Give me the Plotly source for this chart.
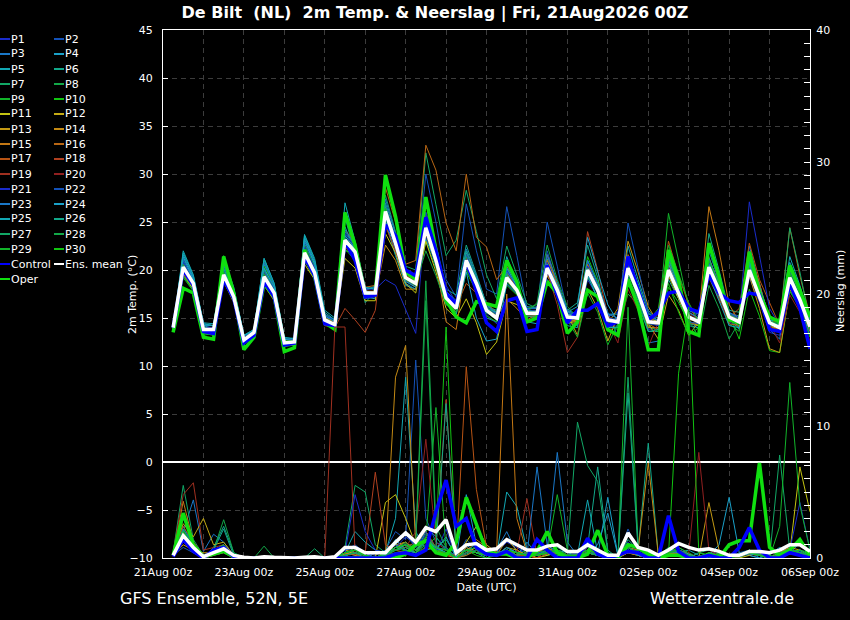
import pandas as pd
import plotly.graph_objects as go

# 6-hourly steps, 21Aug 06Z .. 06Sep 00Z
times = pd.date_range("2026-08-21 06:00", periods=64, freq="6h")

# ---- 2m temperature (°C), members P1..P30 ----
t_p01 = [14.2,19.8,18.2,13.6, 13.5,19.2,17.5,12.9, 13.2,19.6,17.9,12.8, 12.2,21.5,19.4,14.6, 14.0,22.5,21.4,17.0, 17.2,25.6,23.0,19.6, 18.9,23.5,20.4,16.8, 15.8,20.2,18.0,15.4, 14.4,18.5,17.5,15.9, 16.2,21.5,18.6,14.5, 14.2,19.0,17.2,15.2, 15.6,21.4,18.2,14.0, 13.8,19.5,17.9,15.8, 15.2,21.0,18.4,14.6, 14.0,19.2,16.6,13.5, 13.2,18.4,16.0,13.4]
t_p02 = [13.8,20.6,18.9,14.0, 14.0,19.8,17.0,12.5, 13.6,19.0,17.3,12.2, 12.6,22.3,20.1,15.2, 14.8,23.6,22.3,18.0, 18.2,26.8,23.4,19.9, 19.2,30.0,25.0,19.0, 17.2,26.9,22.0,18.0, 17.5,26.6,21.5,16.0, 15.2,22.0,18.5,15.5, 15.5,21.0,18.0,14.0, 14.2,20.5,17.0,13.8, 14.0,21.5,18.5,15.5, 15.0,20.0,17.5,14.2, 14.5,22.0,18.0,14.0, 13.5,19.5,17.0,14.5]
t_p03 = [14.1,21.0,19.0,14.2, 13.9,20.2,17.6,12.4, 13.0,20.1,18.0,12.0, 12.8,22.8,20.3,15.0, 14.6,24.0,22.5,17.4, 17.9,25.2,22.0,18.6, 18.0,24.6,21.5,17.6, 16.2,20.5,18.2,15.0, 14.6,19.8,18.4,16.2, 16.0,19.0,17.2,14.8, 14.5,21.0,18.6,15.6, 13.0,19.5,16.2,12.4, 12.6,21.5,18.2,14.8, 13.8,22.0,18.8,15.5, 15.2,22.5,18.5,13.8, 12.8,20.0,17.5,14.5]
t_p04 = [13.9,21.6,19.2,14.4, 14.2,20.5,17.8,13.0, 13.4,20.6,18.3,12.6, 12.4,23.4,20.8,15.4, 14.2,22.8,21.0,17.2, 17.0,26.5,23.2,19.4, 18.4,25.2,21.8,17.8, 16.8,21.8,19.2,16.4, 15.6,20.4,18.6,15.2, 15.0,20.8,17.6,15.6, 15.4,19.6,17.0,14.0, 14.0,21.0,17.8,15.0, 14.8,20.5,18.0,15.8, 15.4,19.5,17.2,15.0, 13.8,21.6,18.6,14.8, 14.6,19.0,16.4,13.0]
t_p05 = [14.0,22.0,19.5,14.5, 14.4,21.0,18.0,13.2, 13.8,21.2,18.6,12.9, 12.9,23.7,21.2,15.8, 15.0,24.5,22.0,17.8, 17.6,25.0,21.5,18.4, 18.0,23.2,20.8,17.2, 16.0,20.8,18.8,16.2, 15.8,21.4,18.6,14.6, 14.4,19.6,17.2,14.2, 14.0,20.5,18.4,15.4, 15.4,22.5,19.0,15.8, 14.6,19.8,17.0,14.2, 14.0,20.6,18.2,15.6, 14.8,19.6,17.0,14.0, 13.6,20.8,18.2,15.0]
t_p06 = [14.3,20.8,18.8,14.0, 13.6,19.4,17.0,12.2, 13.4,21.0,18.2,12.8, 12.0,22.0,19.8,14.4, 13.8,25.5,21.6,16.6, 17.8,27.0,23.8,20.0, 19.4,26.0,22.4,18.0, 17.4,22.6,19.6,16.4, 15.4,20.0,18.0,15.0, 15.8,21.2,18.4,15.8, 16.6,22.6,19.2,14.6, 14.6,19.0,16.8,13.6, 13.6,19.0,17.0,14.4, 14.2,23.8,20.0,15.8, 15.6,21.0,18.0,15.2, 14.6,18.5,16.5,13.8]
t_p07 = [13.6,19.6,18.0,13.4, 13.2,19.0,16.8,12.0, 12.8,18.8,17.0,12.0, 12.2,21.0,19.0,14.2, 14.4,23.0,22.2,17.8, 18.4,27.8,24.0,20.4, 20.0,32.2,26.8,21.5, 23.1,28.3,24.0,19.5, 17.0,22.5,19.5,16.5, 16.0,20.5,18.0,15.0, 14.6,19.2,17.6,14.6, 14.4,20.2,17.4,14.4, 14.8,21.0,18.6,15.4, 14.4,19.6,17.6,14.8, 14.2,20.6,17.8,15.0, 14.4,19.8,17.2,14.0]
t_p08 = [14.0,20.4,18.6,14.1, 13.8,21.4,17.8,12.6, 13.6,19.4,17.8,12.6, 12.6,21.4,19.2,14.8, 14.2,22.2,21.0,17.2, 17.4,25.4,22.6,19.0, 18.2,23.0,20.2,16.4, 15.6,20.0,18.2,15.6, 14.8,19.0,18.0,15.8, 15.4,20.4,18.2,15.4, 15.2,20.4,18.2,15.0, 14.8,20.6,17.8,14.6, 14.2,20.2,17.4,14.8, 14.8,20.8,18.0,15.0, 14.4,19.6,17.0,14.6, 14.0,19.0,17.0,14.4]
t_p09 = [13.8,19.2,17.8,13.2, 13.4,21.5,17.6,12.8, 13.2,18.6,17.2,12.2, 12.6,22.6,20.4,15.4, 14.6,23.8,22.6,18.2, 18.0,26.4,23.0,19.2, 18.8,24.8,21.2,17.4, 16.4,21.4,19.0,16.2, 15.2,19.4,18.2,16.0, 16.4,20.0,18.0,15.0, 15.0,20.2,18.0,14.2, 13.8,17.5,16.4,14.0, 14.8,25.9,21.0,16.0, 15.6,21.4,18.2,14.4, 13.6,20.4,17.6,14.2, 13.8,19.4,17.2,14.4]
t_p10 = [14.4,20.0,18.4,13.8, 14.0,20.0,17.4,13.0, 13.8,20.4,18.4,13.0, 12.4,21.2,19.6,14.6, 14.0,22.0,21.8,17.6, 17.8,26.2,22.6,19.0, 18.6,24.0,21.0,16.8, 15.4,19.8,17.8,15.2, 14.6,18.4,17.4,15.6, 15.8,20.8,18.2,15.2, 15.4,21.4,18.8,15.0, 14.4,19.6,17.2,14.2, 13.6,18.2,16.6,14.6, 14.2,20.4,18.0,15.4, 12.8,18.0,15.2,11.6, 11.4,17.8,16.0,13.0]
t_p11 = [14.0,19.4,18.0,13.6, 13.6,18.8,16.6,12.4, 13.0,18.4,16.8,12.2, 12.4,20.6,19.0,14.4, 14.0,21.2,20.2,16.8, 16.8,23.8,21.8,18.6, 17.6,23.0,19.8,16.0, 15.0,17.0,14.5,11.2, 12.5,16.8,16.4,15.4, 15.6,19.4,17.6,14.6, 14.4,19.8,17.8,14.8, 14.8,20.8,18.0,15.0, 14.6,19.4,17.0,14.6, 14.2,19.8,17.6,15.2, 14.6,20.2,17.4,14.4, 14.2,19.2,17.0,15.0]
t_p12 = [14.1,20.2,18.6,13.9, 14.0,19.6,17.2,12.8, 13.6,19.2,17.6,12.5, 12.6,21.6,19.6,14.8, 14.4,22.8,21.6,17.4, 17.4,25.8,22.6,19.0, 18.4,23.8,20.6,16.8, 15.6,20.4,18.4,16.0, 15.2,19.2,17.6,15.2, 15.2,20.6,18.4,15.4, 13.2,18.0,16.0,12.6, 15.2,20.0,17.6,14.4, 12.8,17.4,15.8,13.2, 14.6,20.2,17.8,15.0, 14.4,19.8,17.0,14.2, 13.8,18.8,16.4,13.6]
t_p13 = [13.9,19.8,18.4,13.6, 13.8,19.0,17.0,12.6, 13.4,19.0,17.4,12.4, 12.4,21.2,19.4,14.6, 14.2,26.0,22.0,17.6, 17.8,26.0,23.0,19.4, 19.0,25.0,21.6,17.4, 16.2,21.2,19.0,16.0, 15.0,19.6,18.0,15.6, 15.6,20.2,17.8,14.8, 14.6,20.0,17.6,14.4, 16.0,23.0,19.8,16.2, 14.4,19.6,17.2,14.6, 14.4,21.2,18.6,15.4, 14.8,19.4,16.0,11.8, 11.4,18.0,16.2,13.8]
t_p14 = [14.0,20.6,18.8,14.0, 13.8,19.4,17.2,12.8, 13.4,19.6,17.8,12.6, 12.8,22.2,19.8,15.0, 14.6,23.0,21.8,17.4, 17.2,22.6,21.0,18.0, 18.0,24.0,20.6,17.0, 16.0,21.6,19.0,16.4, 15.4,19.0,17.6,15.4, 15.2,19.6,17.4,14.6, 14.8,20.4,18.2,15.0, 14.4,20.4,17.6,14.0, 14.0,21.2,18.6,15.6, 15.0,22.8,19.4,15.2, 14.0,20.6,17.8,14.2, 13.6,20.2,17.6,14.8]
t_p15 = [13.8,19.6,18.2,13.4, 13.4,19.2,16.8,12.4, 13.2,19.0,17.2,12.2, 12.2,21.0,19.2,14.4, 14.0,22.4,21.2,17.0, 17.6,26.4,22.8,19.0, 18.2,24.2,20.8,14.6, 13.8,21.0,18.8,15.8, 15.0,17.0,16.0,14.8, 15.4,21.0,18.6,15.4, 15.0,20.6,18.0,14.6, 14.8,20.0,17.4,14.4, 14.4,20.6,18.0,14.8, 15.0,26.6,22.0,16.4, 14.6,20.4,17.6,14.4, 14.0,19.0,17.0,14.6]
t_p16 = [14.2,20.4,18.6,14.0, 14.0,19.6,17.4,12.8, 13.6,19.8,17.8,12.6, 12.6,22.0,20.0,15.0, 14.6,24.2,22.8,18.2, 18.4,28.6,25.0,20.6, 21.0,33.0,30.4,24.9, 22.0,30.0,23.4,22.4, 19.0,20.4,18.0,15.4, 15.0,21.6,18.6,15.0, 14.4,19.6,17.6,14.8, 14.6,21.6,18.4,14.4, 13.8,20.8,18.0,14.8, 14.8,19.2,17.0,14.4, 14.2,21.8,18.6,14.6, 14.6,24.4,19.4,15.2]
t_p17 = [14.0,20.0,18.4,13.8, 13.8,19.8,17.6,13.0, 13.6,19.4,17.6,12.6, 12.6,21.8,19.6,14.8, 14.4,23.2,22.0,17.8, 17.8,25.8,22.6,19.2, 18.6,24.0,20.8,17.2, 16.2,18.6,17.6,16.6, 15.6,19.0,17.8,15.6, 15.8,20.2,17.8,15.0, 15.2,20.2,18.0,14.8, 14.6,20.4,17.6,14.4, 15.4,23.0,19.4,16.4, 14.4,20.4,17.8,15.0, 16.0,22.8,19.0,16.6, 14.2,19.6,17.0,14.4]
t_p18 = [14.1,20.2,18.6,13.8, 13.6,19.6,17.2,12.8, 13.4,19.2,17.6,12.6, 12.4,21.4,19.4,14.2, 14.0,16.0,14.8,13.5, 15.8,24.6,22.0,19.0, 18.4,25.6,21.4,17.6, 16.4,21.6,19.2,16.2, 15.2,19.8,18.0,15.6, 15.6,20.4,18.0,15.0, 15.0,24.0,20.0,15.2, 14.4,20.6,17.8,14.6, 14.2,19.6,17.2,14.4, 14.4,20.0,17.4,14.8, 14.4,19.6,16.8,14.0, 13.8,18.6,16.4,13.8]
t_p19 = [13.9,19.8,18.2,13.6, 13.8,19.4,17.2,12.8, 13.4,19.6,17.8,12.6, 12.6,21.6,19.4,14.8, 14.2,22.4,21.4,17.4, 17.6,26.0,22.8,19.2, 18.6,24.6,21.2,17.2, 16.0,20.8,18.6,15.8, 15.0,19.4,17.8,15.2, 15.4,19.8,16.4,11.4, 13.0,20.4,18.2,15.0, 14.6,20.2,17.6,14.6, 14.6,20.4,17.8,15.2, 14.8,20.6,18.0,15.0, 14.4,20.0,17.4,14.6, 14.0,19.2,17.0,14.2]
t_p20 = [14.0,20.0,18.4,13.8, 13.8,19.4,17.0,12.6, 13.4,19.2,17.4,12.4, 12.4,21.6,19.6,14.6, 14.2,23.0,21.8,17.4, 17.4,26.4,23.2,19.4, 18.8,24.4,21.0,17.0, 16.0,21.2,18.8,16.0, 15.2,19.0,17.6,15.4, 15.4,20.4,18.0,15.2, 14.8,19.8,17.8,14.6, 12.4,18.0,15.8,12.0, 14.6,20.4,17.8,15.4, 14.8,19.8,16.8,14.6, 14.6,20.2,17.2,14.4, 12.4,17.4,15.6,12.6]
t_p21 = [14.2,20.8,18.8,14.0, 14.0,20.0,17.6,13.0, 13.8,19.8,18.0,12.8, 12.8,22.4,20.2,15.2, 14.8,23.8,22.4,18.0, 18.0,19.0,18.4,15.8, 13.4,26.0,22.6,18.4, 16.6,21.6,19.2,16.2, 15.4,20.0,18.2,15.6, 15.6,20.8,18.2,15.2, 15.2,20.4,18.2,15.0, 14.8,20.6,17.8,14.4, 14.2,20.2,17.8,15.2, 14.8,20.8,18.2,15.4, 15.0,27.1,21.5,16.0, 14.2,20.6,17.6,14.4]
t_p22 = [13.9,20.2,18.4,13.8, 13.6,19.6,17.2,12.6, 13.4,19.2,17.4,12.4, 12.4,21.6,19.6,14.6, 14.0,22.6,21.6,17.4, 17.4,25.6,22.4,18.8, 18.4,24.6,21.2,17.4, 16.2,21.6,19.0,16.0, 15.4,20.2,18.2,15.8, 15.8,25.0,20.4,15.6, 15.0,19.6,17.6,14.6, 14.8,24.9,20.2,15.6, 14.6,19.8,17.4,14.6, 14.4,20.4,17.8,15.0, 14.4,20.4,17.6,14.6, 14.4,19.6,17.2,14.2]
t_p23 = [14.1,21.2,19.2,14.3, 14.2,20.6,17.8,13.0, 13.8,20.8,18.4,12.8, 12.8,23.0,20.6,15.4, 14.8,24.2,22.6,18.0, 18.2,27.4,23.8,20.0, 19.2,25.4,21.8,17.8, 16.6,22.2,19.4,16.4, 15.4,19.8,18.4,16.0, 16.0,21.6,18.8,15.8, 15.4,21.0,18.6,15.4, 15.0,21.4,18.4,15.2, 14.8,21.0,18.4,15.6, 15.0,21.2,18.6,15.6, 15.0,21.0,18.0,15.0, 14.6,20.2,17.6,14.8]
t_p24 = [14.0,21.4,19.0,14.2, 14.2,20.8,18.0,13.2, 13.6,20.2,18.2,12.8, 12.6,23.2,20.6,15.2, 14.6,23.6,22.2,17.8, 17.6,25.8,22.4,18.8, 18.2,24.2,20.6,16.6, 15.4,19.8,15.0,12.6, 12.8,18.6,17.6,15.6, 15.4,20.6,18.4,15.6, 16.2,23.4,19.8,16.4, 14.6,20.0,17.6,14.6, 14.6,20.6,18.2,15.2, 14.8,20.6,18.0,15.2, 14.4,20.6,17.8,14.6, 14.2,19.2,16.8,13.8]
t_p25 = [13.9,21.8,19.4,14.4, 14.2,21.2,18.2,13.2, 13.8,21.2,18.6,13.0, 12.8,23.6,21.0,15.6, 14.8,27.0,23.0,18.2, 18.0,26.0,22.8,19.0, 18.6,25.0,21.4,17.4, 16.2,21.0,18.8,16.0, 15.6,20.2,18.4,15.8, 15.6,20.6,18.2,15.4, 15.2,19.4,17.0,14.0, 14.0,21.4,18.6,15.4, 15.0,21.6,18.6,15.0, 14.6,19.4,16.8,14.2, 14.0,20.8,18.2,15.2, 14.6,21.4,18.4,14.8]
t_p26 = [14.1,20.4,18.6,14.0, 13.8,20.2,17.4,12.8, 13.4,20.0,17.8,12.6, 12.4,22.2,19.8,15.0, 14.4,23.4,22.0,17.6, 17.6,26.6,23.0,19.2, 18.6,24.8,21.2,17.2, 16.0,22.0,19.2,16.4, 15.6,19.6,17.8,15.2, 15.2,20.2,17.8,15.0, 15.0,20.2,18.0,14.8, 14.6,18.6,16.4,13.6, 13.8,21.0,18.6,15.2, 14.8,20.2,17.6,14.8, 14.4,20.6,17.8,14.8, 14.2,18.8,16.6,14.0]
t_p27 = [13.8,19.8,18.2,13.6, 13.4,20.8,17.6,12.6, 13.2,19.2,17.4,12.4, 12.4,21.8,19.6,14.8, 14.2,22.8,21.6,17.4, 17.6,26.2,22.8,19.2, 18.4,24.0,20.6,16.8, 16.0,21.4,19.0,16.2, 15.2,19.4,17.8,15.4, 15.6,20.4,18.0,15.2, 15.0,20.2,17.8,14.6, 14.6,19.2,17.0,14.4, 14.4,21.4,18.6,15.2, 14.8,21.0,18.4,15.4, 14.8,19.6,17.0,14.2, 14.2,24.4,19.8,14.6]
t_p28 = [14.0,20.6,18.8,14.0, 13.8,19.8,17.4,12.8, 13.6,19.6,17.8,12.6, 12.6,22.0,19.8,14.8, 14.4,23.2,21.8,17.6, 17.6,26.0,22.8,19.2, 18.6,22.0,19.4,16.4, 15.6,20.6,18.4,15.6, 15.0,19.2,17.8,15.6, 16.6,22.6,19.0,16.2, 15.0,20.0,17.8,14.8, 14.6,20.4,17.6,14.6, 14.6,19.6,17.2,14.8, 13.0,18.4,16.0,12.8, 14.6,19.8,17.2,14.4, 14.0,19.2,16.8,14.0]
t_p29 = [13.6,19.4,17.8,13.4, 13.4,19.0,16.8,12.4, 13.0,18.8,17.2,12.2, 12.2,21.0,19.2,14.4, 14.0,22.6,21.4,17.2, 17.4,26.0,22.8,19.0, 18.4,24.2,20.8,16.8, 15.8,20.6,18.4,15.6, 14.8,18.8,17.6,15.6, 15.6,20.0,17.6,14.8, 13.0,17.6,15.6,12.2, 14.4,20.2,17.6,14.6, 16.0,22.6,19.6,16.6, 14.6,21.0,18.4,15.2, 14.4,20.2,17.4,14.6, 14.4,17.8,16.2,13.8]
t_p30 = [14.2,20.2,18.4,13.8, 13.8,19.6,17.2,12.8, 13.4,19.4,17.6,12.6, 12.6,21.8,19.8,14.8, 14.4,23.0,21.8,17.6, 17.6,26.4,23.0,19.2, 18.6,24.6,21.2,17.2, 16.0,21.0,18.6,15.8, 15.0,19.2,17.8,15.4, 15.4,20.2,17.8,15.0, 15.0,20.0,17.8,14.8, 14.6,20.0,17.6,14.6, 14.6,18.6,15.6,13.2, 14.0,20.0,17.6,14.8, 14.6,20.0,17.2,14.6, 14.0,19.6,17.2,14.2]

t_control = [14.0,20.0,18.4,13.6, 13.4,19.0,17.0,12.4, 13.2,18.8,17.2,12.2, 12.4,21.4,19.4,14.4, 14.2,23.0,21.0,17.2, 17.4,24.7,23.6,20.0, 19.4,25.5,22.0,17.6, 16.4,21.0,17.8,14.5, 13.6,16.8,17.1,13.6, 13.8,20.5,17.4,14.5, 15.8,15.8,16.5,14.2, 14.6,21.4,17.9,14.8, 15.6,17.6,17.8,16.0, 15.6,19.5,17.6,16.8, 16.6,17.6,17.4,13.8, 13.6,18.6,16.0,11.8]
t_oper = [13.5,18.1,17.6,13.0, 12.8,21.4,17.6,11.7, 13.0,18.6,17.2,11.5, 11.9,22.1,19.3,14.5, 13.8,26.0,22.6,17.2, 17.6,29.9,25.6,19.8, 19.0,27.6,22.1,16.9, 15.1,14.5,16.7,16.5, 16.2,21.0,18.8,14.6, 15.0,18.8,17.6,13.4, 14.6,17.9,17.2,13.8, 13.2,19.0,16.2,11.7, 11.7,22.1,19.0,13.6, 13.2,22.8,19.3,14.8, 14.5,21.9,17.6,15.1, 14.6,20.5,17.9,15.1]
t_mean = [14.0,20.3,18.6,13.8, 13.8,19.5,17.2,12.7, 13.5,19.3,17.6,12.4, 12.5,21.8,19.7,14.8, 14.3,23.1,21.9,17.6, 17.6,26.1,22.8,19.2, 18.6,24.4,21.0,17.1, 16.0,21.0,18.6,15.8, 15.0,19.2,17.9,15.5, 15.5,20.2,17.9,15.1, 15.0,20.0,17.9,14.8, 14.6,20.2,17.6,14.6, 14.5,20.0,17.6,15.1, 14.6,20.3,17.9,15.1, 14.6,20.0,17.2,14.5, 14.0,19.2,16.9,14.1]

# ---- precipitation (mm / 6h), members P1..P30 ----
rr_p01 = [0.2,1.5,0.6,0,0.3,0.5,0,0, 0,0,0,0,0,0,0,0, 0,0.4,0.2,0,0,0,0.8,1.2, 0.6,1.8,0.4,2.2,0,0.6,0.8,0.2, 0.4,1.2,0.8,0.3,0,1.0,0.4,0.2, 0.3,0.6,0.2,0,0,1.2,0.4,0.2, 0,0.3,0.6,0.2,0,0.4,0.2,0, 0,0.6,0.3,0,0.2,0.8,1.0,0.4]
rr_p02 = [0.2,0.8,0.4,0,0.2,0.4,0,0, 0,0,0,0,0,0,0,0, 0,0.6,1.0,0.4,0.2,0.6,2.0,1.4, 15.0,3.0,1.2,0.8,0,1.4,0.6,0.2, 0.2,0.8,0.4,0.6,0.3,0.2,0.4,0, 0.2,0.6,0.3,0.2,0,2.2,0.4,0, 0,0.4,0.8,0.3,0,0.2,0.3,0, 0.4,0.6,0,0,0.3,0.6,0.5,0.2]
rr_p03 = [0.2,2.0,4.4,0.5,1.8,1.2,0.2,0, 0,0,0,0,0,0,0,0, 0,0.3,0.4,0.2,0,0.4,1.0,2.0, 0.8,2.4,1.6,0.6,0.2,1.0,0.4,0.2, 0.6,2.0,0.4,0.2,0.4,0.6,8.0,1.2, 0.2,1.0,0.2,0,0.2,0.4,0.2,0, 0,0.8,0.4,0.2,0,0.2,0.6,0, 0.3,0.2,0,0.4,0.6,0.3,1.2,0.4]
rr_p04 = [0.3,2.4,1.0,0,0.5,1.0,0,0, 0,0,0,0,0,0,0,0, 0,0.2,0.6,0.2,0,0.2,1.4,0.6, 0.4,1.2,0.6,1.6,0,0.8,0.4,0, 0.4,0.6,0.2,1.2,0.3,0.4,0.2,0.2, 0.2,0.4,1.0,3.4,0.2,0.8,0.3,0, 0.2,0.6,0.2,0,0.4,0.2,1.0,4.6, 0.4,0.2,0,0.3,0.8,0.4,0.2,0]
rr_p05 = [0.2,1.8,0.6,0.1,0.4,0.8,0,0, 0,0,0,0,0,0,0,0, 0,0.4,2.0,1.2,0.6,0.4,3.0,13.7, 2.0,0.6,0.8,1.4,0.2,0.4,1.2,0.4, 0.2,5.0,3.9,0.6,0.4,0.2,0.6,0.4, 0.2,1.2,0.4,0.2,0,0.6,0.2,0, 0,0.2,0.4,0.6,0.2,0,0.2,0, 0.2,0.6,0.3,0,0.2,0.4,0.6,0.2]
rr_p06 = [0.3,3.0,1.2,0,0.8,2.4,0.4,0, 0,0,0,0,0,0,0,0, 0,0.2,0.4,0.2,0,0.3,0.8,0.6, 0.4,2.0,0.8,0.6,0,0.3,0.6,0.2, 0.3,0.4,0.2,0.4,0.6,0.2,0.4,0.2, 0.4,0.8,6.9,0.6,0,1.4,0.6,8.7, 0.2,0.4,0.6,0,0,0.2,0.4,0, 0,0.4,0.6,0.2,0,0.6,0.4,0]
rr_p07 = [0.4,5.5,1.4,0.2,0.6,1.0,0,0, 0,0,0,0,0,0,0,0, 0,0.8,5.5,5.0,1.0,0.4,0.2,0.6, 0.4,1.0,0.8,0.4,0,0.2,0.6,0.2, 0.4,0.6,0.2,0.4,0.2,0.6,0.8,0.4, 10.3,7.0,5.8,0.4,0.2,0.6,0.3,0, 0.2,0.6,0.3,0,0.4,0.6,0.2,0, 0.2,0.4,0.2,0,0.4,0.3,0.6,0.4]
rr_p08 = [0.2,2.0,0.8,0,0.6,2.9,0.4,0, 0,0,0,0,0,0,0,0, 0,0.2,0.4,0,0,0.4,0.6,0.8, 1.2,21.0,2.4,0.8,0,0.6,0.4,0.2, 0.2,0.8,0.4,0.2,0.6,0.4,0.2,0.2, 0.2,0.4,0.2,0,0,0.6,0.4,0.2, 0.2,0.8,0.4,0.2,0,0.3,0.2,0, 0.3,0.6,0.2,0,0.6,0.4,0.2,0.2]
rr_p09 = [0.2,1.4,0.4,0,0.2,0.6,0,0, 0,0,0,0,0,0,0,0, 0,0.3,0.8,0.2,0,0.4,0.6,1.0, 0.6,1.4,11.4,0.6,0,0.4,0.6,0.2, 0.4,0.6,0.2,0.4,0.2,0.4,4.8,0.6, 0.2,0.6,0.3,0.2,0,19.0,0.8,0.2, 0,0.4,0.6,0.3,0,0.2,0.3,0, 0.2,0.4,0.3,0,0.2,0.6,0.4,0.2]
rr_p10 = [0.3,1.6,0.6,0,0.4,0.8,0,0, 0,0,0,0,0,0,0,0, 0,0.2,0.4,0.2,0,0.2,0.4,0.6, 0.4,0.8,1.6,17.5,0.4,0.6,0.2,0, 0.2,0.4,0.2,0.6,0.4,0.2,0.4,0.2, 0.2,0.4,0.2,0,0,0.4,0.6,0.2, 0.2,0.4,0.8,0.4,0,0.2,0.3,0, 0.3,0.4,0.2,0,0.2,0.3,0.6,0.2]
rr_p11 = [0.2,1.8,0.8,0.2,0.5,0.8,0.1,0, 0,0,0,0,0,0,0,0, 0,0.6,0.4,0.2,0,4.2,4.8,3.0, 1.0,2.0,0.6,0.4,0,1.2,2.4,1.0, 0.4,0.6,0.2,0.4,0,0.2,0.6,0.2, 0.2,0.4,0.6,0.2,0,0.4,0.2,0, 0,0.6,0.4,0.2,0,0.3,0.2,0, 0,0.2,0.4,0,0.2,0.4,6.9,3.5]
rr_p12 = [0.3,2.6,1.6,3.0,1.0,1.2,0.2,0, 0,0,0,0,0,0,0,0, 0,0.2,0.6,0.4,0,0.3,1.0,1.2, 0.6,1.4,0.8,0.6,0,0.4,0.8,0.2, 0.2,0.8,0.6,0.2,0.2,0.6,0.4,0.2, 0.2,0.6,0.4,0,0,0.8,0.4,0.2, 0,0.4,0.6,0.2,0,0.4,0.2,0, 0.2,0.6,0.2,0,0.4,0.8,0.6,0.2]
rr_p13 = [0.2,1.0,0.6,0.4,0.4,0.8,0,0, 0,0,0,0,0,0,0,0, 0,0.4,0.2,0,0,0.4,0.6,0.8, 0.4,1.6,0.8,0.4,0,0.6,0.4,0.2, 0.2,1.4,0.6,0.2,0.4,0.8,0.4,0.2, 0.2,0.8,0.2,0,0,0.6,0.2,0, 0,0.3,0.4,0.2,0,4.2,0.6,0.2, 0.2,0.4,0.2,0,0.2,0.6,0.4,0]
rr_p14 = [0.2,1.4,0.8,0.2,0.3,0.6,0,0, 0,0,0,0,0,0,0,0, 0,0.2,0.4,0,0,0.2,13.7,16.1, 1.0,1.2,0.6,0.4,0,0.8,0.4,0.2, 0.2,0.6,0.2,0.4,0.2,0.4,0.6,0.2, 0.2,0.4,0.2,0,0,0.8,0.6,7.2, 0.2,0.4,0.6,0.3,0,0.2,0.3,0, 0.2,0.4,0.3,0,0.4,0.6,0.4,0.2]
rr_p15 = [0.2,4.3,1.2,0.2,0.4,0.6,0,0, 0,0,0,0,0,0,0,0, 0,0.3,0.6,0.2,0,0.4,0.8,1.2, 0.6,1.4,0.6,0.2,0,0.4,1.4,0.8, 0.5,20.0,3.0,0.4,0.2,0.4,0.6,0.2, 0.2,0.6,0.4,0,0,0.6,0.2,0.2, 0,0.4,0.2,0,0,0.3,0.2,0, 0.2,0.3,0.2,0,0.2,0.4,0.6,0.2]
rr_p16 = [0.1,1.2,0.6,0,0.2,0.4,0,0, 0,0,0,0,0,0,0,0, 0,0.2,0.3,0,0,0.2,0.6,0.4, 0.2,0.8,0.6,0.3,0,0.2,0.6,0.2, 0.2,0.4,0.2,0.2,0,0.3,0.4,0.2, 0.2,0.4,0.2,0,0,0.4,0.2,0, 0,0.2,0.4,0.2,0,0.2,0.2,0, 0.2,0.3,0.2,0,0.2,0.3,0.4,0.2]
rr_p17 = [0.2,1.6,0.8,0,0.3,0.6,0,0, 0,0,0,0,0,0,0,0, 0,0.4,0.6,0.2,0,0.2,0.6,1.0, 0.4,1.2,0.6,0.4,0.2,14.5,5.2,0.8, 0.2,0.6,0.4,0.2,0,0.6,0.4,0.2, 0.2,0.8,0.4,0.2,0,0.6,0.4,0.2, 0,0.6,0.4,0.2,0,0.4,0.2,0, 0.2,0.4,0.3,0,0.2,0.6,0.4,0.2]
rr_p18 = [0.3,2.4,1.2,0.2,0.6,1.0,0.2,0, 0,0,0,0,0,0,0,0, 0,0.4,0.6,0.4,6.5,1.0,0.6,0.8, 1.2,2.0,0.8,12.0,0.4,0.6,0.4,0.2, 0.2,0.6,0.4,0.2,0.2,0.4,0.6,0.2, 0.2,0.6,0.4,0,0,0.6,0.2,0, 0.2,0.4,0.6,0.3,0,0.4,0.2,0, 0.2,0.4,0.3,0,0.2,0.4,0.6,0.2]
rr_p19 = [0.4,4.8,5.7,0.6,0.8,1.0,0.2,0, 0,0,0,0,0,0,0,0, 17.5,17.5,0.4,0.2,0,0.2,0.6,0.8, 0.6,1.4,0.8,0.4,0,0.4,0.6,0.2, 0.2,0.8,0.4,4.5,0.2,0.6,0.4,0.2, 0.4,0.6,0.3,0,0,0.6,0.2,0, 0.2,0.4,0.6,0.3,0,0.2,0.3,0, 0.2,0.4,0.2,0,0.2,0.4,0.6,0.2]
rr_p20 = [0.2,1.2,0.6,0,0.3,0.6,0,0, 0,0,0,0,0,0,0,0, 0,0.2,0.4,0.2,0,0.3,0.6,0.8, 2.0,9.0,1.2,0.6,0,0.4,0.6,0.2, 0.2,0.6,0.2,0.4,0.2,0.4,0.6,0.2, 0.2,0.4,0.2,0,0,0.6,0.4,0.2, 0.2,0.4,0.6,0.3,8.0,0.6,0.2,0, 0.2,0.3,0.2,0,0.2,0.4,0.4,0.2]
rr_p21 = [0.2,1.4,0.6,0,0.4,0.8,0,0, 0,0,0,0,0,0,0,0, 0,0.4,4.8,2.0,0.6,0.4,0.8,1.6, 1.0,1.6,0.8,0.6,0,0.4,0.6,0.2, 0.4,0.6,0.4,0.2,0.2,0.4,0.6,0.2, 0.2,0.8,0.4,0.2,0,0.6,0.4,0, 0.2,0.6,0.4,0.2,0,0.3,0.2,0, 0.2,0.4,0.3,0,0.2,0.6,4.2,0.6]
rr_p22 = [0.2,1.8,0.8,0,0.5,0.8,0,0, 0,0,0,0,0,0,0,0, 0,0.6,0.8,0.4,0,0.4,1.2,1.8, 0.8,2.0,0.6,0.8,0,0.6,0.4,0.2, 0.2,0.8,0.4,0.2,0.4,0.4,0.6,0.2, 0.4,0.6,0.2,0,0,0.8,0.4,0.2, 0,0.6,0.4,0.2,0,0.4,0.2,0, 0.2,0.4,0.2,0,0.2,0.4,0.6,0.2]
rr_p23 = [0.2,2.2,1.0,0.2,0.6,1.0,0.2,0, 0,0,0,0,0,0,0,0, 0,0.4,0.6,0.4,0,0.4,1.0,0.6, 0.4,1.2,0.8,0.4,0,0.6,0.4,0.2, 0.2,0.6,0.4,0.2,6.9,1.0,0.4,0.2, 0.2,0.6,0.4,0,0,0.8,0.4,0, 0,0.4,0.6,0.2,0,0.2,0.2,0, 0.2,0.4,0.2,0,0.2,0.6,0.4,0.2]
rr_p24 = [0.3,2.0,0.8,0,0.4,0.8,0,0, 0,0,0,0,0,0,0,0, 0,0.2,0.4,0.2,0,0.2,0.8,1.0, 0.6,1.4,0.8,0.4,0,4.8,1.0,0.4, 0.2,0.6,0.4,0.2,0.2,0.4,0.6,0.2, 0.2,0.4,0.2,4.6,0.2,0.6,0.2,0, 0,0.6,0.4,0.2,0,0.2,0.3,0, 0.2,0.4,0.2,0,0.2,0.4,0.6,0.2]
rr_p25 = [0.2,1.6,0.6,0,0.4,0.6,0,0, 0,0,0,0,0,0,0,0, 0,0.4,0.6,0.2,0,0.3,0.6,1.0, 0.6,1.2,0.8,0.4,0,0.6,0.4,0.2, 0.2,0.8,0.4,0.2,0.2,0.6,0.4,0.2, 0.2,4.4,0.4,0,0,0.6,0.2,0.2, 0,0.4,0.6,0.3,0,0.2,0.3,0, 0.2,0.3,0.2,0,0.2,0.4,0.6,0.2]
rr_p26 = [0.2,1.4,0.6,0,0.6,2.2,0.2,0, 0,0,0,0,0,0,0,0, 0,0.2,0.4,0,0,0.2,0.6,0.8, 0.4,1.4,0.8,11.7,0.4,0.6,0.4,0.2, 0.2,0.6,0.2,0.4,0.2,0.4,0.6,0.2, 0.2,0.4,0.2,0,0,12.5,0.6,0.4, 0.2,0.4,0.6,0.2,0,0.2,0.3,0, 0.2,0.4,0.2,0,0.2,0.6,0.4,0.2]
rr_p27 = [0.2,2.2,0.8,0,0.4,0.6,0,0, 0,0,0,0,0,0,0.7,0, 0,0.4,0.6,0.2,0,0.4,0.8,1.0, 0.4,1.4,0.6,0.4,0,0.6,0.4,0.2, 0.2,0.6,0.4,0.2,0.2,0.6,0.4,0.2, 0.2,0.6,0.2,0,0,13.7,0.8,0.2, 0.2,0.4,0.6,0.2,0,0.4,0.2,0, 0.2,0.4,0.3,0,7.8,0.6,0.4,0.2]
rr_p28 = [0.2,1.6,0.6,0,0.4,0.8,0,0, 0,0.9,0,0,0,0,0,0, 0,0.2,0.4,0.2,0,0.2,0.6,0.8, 1.0,19.5,1.6,0.6,0,0.4,0.6,0.2, 0.2,0.6,0.4,0.2,0.2,0.4,0.6,0.2, 0.2,0.4,0.2,0,0,0.6,0.4,0.2, 0,0.4,0.6,0.2,0,0.2,0.3,0, 0.2,0.4,0.2,0,0.4,0.6,0.4,0.2]
rr_p29 = [0.2,1.8,0.8,0,0.4,0.8,0,0, 0,0,0,0,0,0,0,0, 0,0.4,0.6,0.2,0,0.4,0.6,1.2, 0.4,1.2,0.6,0.4,0,0.6,0.8,0.2, 0.2,0.6,0.4,0.2,0.2,0.4,0.6,0.2, 0.2,0.6,0.4,0,0,0.8,0.4,0.2, 0,0.4,0.6,0.2,0,0.2,0.3,0, 0.2,0.4,0.6,0,2.4,13.3,4.0,0.6]
rr_p30 = [0.3,2.0,0.8,0,0.6,1.0,0,0, 0,0,0,0,0,0,0,0, 0,0.4,0.6,0.2,0,0.4,0.8,1.0, 0.6,1.6,0.8,0.6,0,0.6,0.4,0.2, 0.2,0.6,0.4,0.2,0.2,0.4,0.6,0.2, 0.2,0.6,0.4,0,0,0.6,0.4,0.2, 0,0.2,14.0,19.0,0.4,0.2,0.3,0, 0.2,0.4,0.2,0,0.2,0.4,0.6,0.2]

rr_control = [0.1,1.4,0.5,0,0.6,0.8,0.1,0, 0,0,0,0,0,0,0,0, 0,0,0,0,0,0,0.3,0.4, 0.2,0.6,3.5,5.9,2.4,3.0,0.8,0.3, 0.2,0.5,0,0,1.4,0.6,0,0, 0,1.5,0.3,0,0.2,0.5,0.4,0, 0,3.2,0.5,0,0,0.2,0,0, 0.8,2.3,0.6,0,0,0.4,0.2,0]
rr_oper = [0.2,3.4,1.0,0.1,0.3,0.5,0.1,0, 0,0,0,0,0,0,0,0, 0,0,0,0,0,0,0,0.3, 1.0,1.3,0.4,0.2,1.2,4.6,2.5,0.5, 0.3,0.3,0,0,0.5,2.0,0.4,0, 0,0.3,2.1,0.2,0,1.0,0.8,0.3, 0,0.2,0.2,0,0,0.3,0,1.0, 1.3,1.3,7.2,0.8,0.2,0.6,1.4,0.2]
rr_mean = [0.2,1.7,0.8,0.1,0.4,0.7,0.2,0.05, 0,0.1,0.05,0,0,0.05,0.1,0, 0.1,0.8,0.8,0.4,0.4,0.4,1.2,1.9, 1.2,2.3,2.0,2.9,0.4,1.0,1.1,0.6, 0.7,1.4,1.0,0.6,0.6,0.9,1.0,0.5, 0.5,1.0,0.6,0.2,0.2,1.9,0.8,0.6, 0.2,0.6,1.1,0.8,0.6,0.7,0.5,0.2, 0.2,0.5,0.5,0.4,0.6,1.0,1.0,0.5]

member_colors = ["#1a2ccc", "#1452b8", "#1a78c8", "#1aa0c8", "#12a8b4",
                 "#12a88a", "#12a866", "#12a848", "#12b42a", "#12c412",
                 "#c4c412", "#c4aa14", "#c49a14", "#c48a14", "#c47814",
                 "#b86614", "#b85414", "#b04020", "#a03020", "#902020",
                 "#1a2ccc", "#1452b8", "#1a78c8", "#1aa0c8", "#12a8b4",
                 "#12a88a", "#12a866", "#12a848", "#12b42a", "#12c412"]

member_temps = [t_p01, t_p02, t_p03, t_p04, t_p05, t_p06, t_p07, t_p08, t_p09, t_p10,
                t_p11, t_p12, t_p13, t_p14, t_p15, t_p16, t_p17, t_p18, t_p19, t_p20,
                t_p21, t_p22, t_p23, t_p24, t_p25, t_p26, t_p27, t_p28, t_p29, t_p30]
member_rain = [rr_p01, rr_p02, rr_p03, rr_p04, rr_p05, rr_p06, rr_p07, rr_p08, rr_p09, rr_p10,
               rr_p11, rr_p12, rr_p13, rr_p14, rr_p15, rr_p16, rr_p17, rr_p18, rr_p19, rr_p20,
               rr_p21, rr_p22, rr_p23, rr_p24, rr_p25, rr_p26, rr_p27, rr_p28, rr_p29, rr_p30]

CONTROL = "#0000ff"
OPER = "#10e010"
FONT = "DejaVu Sans"

fig = go.Figure()

# members: temperature (left axis) and precipitation (right axis)
for k in range(30):
    fig.add_scatter(x=times, y=member_temps[k], mode="lines", name="P%d" % (k + 1),
                    line=dict(color=member_colors[k], width=1), showlegend=False)
for k in range(30):
    fig.add_scatter(x=times, y=member_rain[k], mode="lines", yaxis="y2",
                    line=dict(color=member_colors[k], width=1), showlegend=False)

# oper, control, ensemble mean on top
for temps, rain, col in [(t_oper, rr_oper, OPER), (t_control, rr_control, CONTROL),
                         (t_mean, rr_mean, "white")]:
    fig.add_scatter(x=times, y=temps, mode="lines", line=dict(color=col, width=3.5),
                    showlegend=False)
    fig.add_scatter(x=times, y=rain, mode="lines", yaxis="y2",
                    line=dict(color=col, width=3.5), showlegend=False)

# plot area in pixels: x 163..810, y 30..558
L, R, T, B = 163, 810, 30, 558
W, H = 850, 620


def px(x):
    return (x - L) / (R - L)


def py(y):
    return (B - y) / (B - T)


white11 = dict(family=FONT, size=11, color="white")

# hand-made two-column legend
col1 = ["P%d" % n for n in range(1, 31, 2)] + ["Control", "Oper"]
col1_c = member_colors[0::2] + [CONTROL, OPER]
col2 = ["P%d" % n for n in range(2, 31, 2)] + ["Ens. mean"]
col2_c = member_colors[1::2] + ["white"]

annotations = []
shapes = []
for x0, names, cols in [(0, col1, col1_c), (54, col2, col2_c)]:
    for row, (name, c) in enumerate(zip(names, cols)):
        yy = 39 + 15 * row
        shapes.append(dict(type="line", xref="paper", yref="paper",
                           x0=px(x0), x1=px(x0 + 10), y0=py(yy), y1=py(yy),
                           line=dict(color=c, width=2)))
        annotations.append(dict(text=name, xref="paper", yref="paper",
                                x=px(x0 + 9), y=py(yy), xanchor="left", yanchor="middle",
                                showarrow=False, font=white11))

# axis titles placed by hand
annotations.append(dict(text="2m Temp. (°C)", textangle=-90, xref="paper", yref="paper",
                        x=px(132), y=py(295), xanchor="center", yanchor="middle",
                        showarrow=False, font=white11))
annotations.append(dict(text="Neerslag (mm)", textangle=-90, xref="paper", yref="paper",
                        x=px(840), y=py(291), xanchor="center", yanchor="middle",
                        showarrow=False, font=white11))

annotations.append(dict(text="GFS Ensemble, 52N, 5E", xref="paper", yref="paper",
                        x=px(118), y=py(598), xanchor="left", yanchor="middle",
                        showarrow=False, font=dict(family=FONT, size=16, color="white")))
annotations.append(dict(text="Wetterzentrale.de", xref="paper", yref="paper",
                        x=px(796), y=py(598), xanchor="right", yanchor="middle",
                        showarrow=False, font=dict(family=FONT, size=16, color="white")))

grid = "#3c3c3c"

fig.update_layout(
    width=W, height=H,
    margin=dict(l=L, r=W - R, t=T, b=H - B),
    paper_bgcolor="black", plot_bgcolor="black",
    showlegend=False,
    title=dict(text="<b>De Bilt\u00a0 (NL)\u00a0 2m Temp. &amp; Neerslag | Fri, 21Aug2026 00Z</b>",
               x=435 / W, xanchor="center", y=1 - 12 / H, yanchor="middle",
               font=dict(family=FONT, size=16, color="white")),
    xaxis=dict(type="date", range=["2026-08-21 00:00", "2026-09-06 00:00"],
               tickvals=pd.date_range("2026-08-21", "2026-09-06", freq="2D"),
               tickformat="%d%b %Hz", tickfont=white11, ticks="", ticklabelstandoff=4,
               showgrid=True, gridcolor=grid, griddash="5px,4px", gridwidth=1,
               minor=dict(dtick=86400000, showgrid=True, gridcolor=grid, griddash="5px,4px"),
               showline=True, linecolor="white", linewidth=1, mirror=True, zeroline=False,
               title=dict(text="Date (UTC)", font=white11, standoff=5)),
    yaxis=dict(range=[-10, 45], tickvals=list(range(-10, 50, 5)), tickfont=white11,
               ticks="inside", ticklen=5, tickcolor="white", ticklabelstandoff=7,
               showgrid=True, gridcolor=grid, griddash="5px,4px", gridwidth=1,
               zeroline=True, zerolinecolor="white", zerolinewidth=1.5,
               showline=True, linecolor="white", linewidth=1),
    yaxis2=dict(overlaying="y", side="right", range=[0, 40], tickvals=[0, 10, 20, 30, 40],
                tickfont=white11, ticks="inside", ticklen=6, tickcolor="white",
                ticklabelstandoff=3,
                minor=dict(dtick=1, ticks="inside", ticklen=6, tickcolor="white"),
                showgrid=False, zeroline=False,
                showline=True, linecolor="white", linewidth=1),
    annotations=annotations,
    shapes=shapes,
)

# the page's default 8px body margin would push the figure off its 850x620 frame
fig.write_html("out.html", config={"displayModeBar": False},
               post_script="document.body.style.margin='0';")
